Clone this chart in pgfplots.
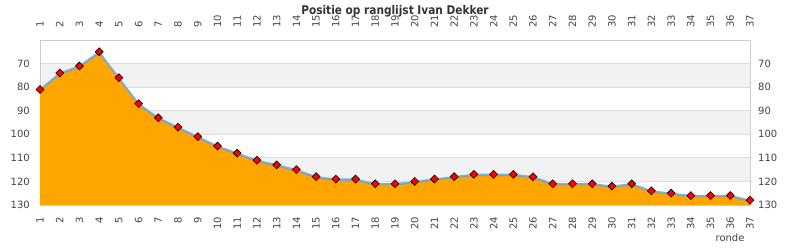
\documentclass[border=0pt]{standalone}
\usepackage{fontspec}
\setmainfont{DejaVu Sans}
\newfontfamily\titlefont{DejaVu Sans}[FakeStretch=0.88]
\usepackage{pgfplots}
\usepackage{pgfplotstable}
\pgfplotsset{compat=1.18}
\definecolor{bandgray}{HTML}{F2F2F2}
\definecolor{gridgray}{HTML}{DDDDDD}
\definecolor{framegray}{HTML}{CCCCCC}
\definecolor{labelgray}{HTML}{444444}
\definecolor{titlegray}{HTML}{333333}
\definecolor{orangefill}{HTML}{FFA500}
\definecolor{lineblue}{HTML}{74B2E6}
\definecolor{shadowgray}{HTML}{8C9AA6}

\pgfplotstableread{
x y
1 81
2 74
3 71
4 65
5 76
6 87
7 93
8 97
9 101
10 105
11 108
12 111
13 113
14 115
15 118
16 119
17 119
18 121
19 121
20 120
21 119
22 118
23 117
24 117
25 117
26 118
27 121
28 121
29 121
30 122
31 121
32 124
33 125
34 126
35 126
36 126
37 128
}\rankdata

\pgfplotsset{
  common/.style={
    scale only axis, width=710pt, height=165pt,
    xmin=1, xmax=37, ymin=60, ymax=130, y dir=reverse,
    xtick={1,...,37}, ytick={70,80,...,130},
    major tick length=0pt, tick style={draw=none},
    /pgf/number format/assume math mode=true,
    ticklabel style={font=\fontsize{10}{12}\selectfont, text=labelgray, inner sep=0pt},
    axis line style={draw=framegray, line width=0.8pt},
    clip=false,
    at={(0,0)}, anchor=south west,
  }
}

\begin{document}
\begin{tikzpicture}
\begin{axis}[common, name=main, set layers,
  xticklabel pos=lower, yticklabel pos=left,
  xticklabel style={rotate=90, anchor=east},
  xticklabel shift=12pt, yticklabel shift=10pt,
  ymajorgrids, grid style={draw=gridgray, line width=0.8pt},
]
\begin{pgfonlayer}{axis background}
\fill[bandgray] (axis cs:1,70) rectangle (axis cs:37,80);
\fill[bandgray] (axis cs:1,90) rectangle (axis cs:37,100);
\fill[bandgray] (axis cs:1,110) rectangle (axis cs:37,120);
\end{pgfonlayer}
\addplot[draw=none, fill=orangefill] table {\rankdata} -- (axis cs:37,130) -- (axis cs:1,130) -- cycle;
\addplot[shadowgray, line width=1pt, yshift=-1.2pt] table {\rankdata};
\addplot[lineblue, line width=1.3pt, mark=square*, mark size=2.8pt,
  mark options={rotate=45, fill=red, draw=black, line width=0.6pt, solid}] table {\rankdata};
\node[anchor=base east, font=\fontsize{10}{12}\selectfont, text=labelgray]
  at ([xshift=-2pt, yshift=-37pt]axis description cs:1,0) {ronde};
\end{axis}
\begin{axis}[common,
  xticklabel pos=upper, yticklabel pos=right,
  xticklabel style={rotate=90, anchor=west},
  xticklabel shift=12pt, yticklabel shift=8pt,
  axis line style={draw=none},
]
\end{axis}
\node[font=\titlefont\bfseries\fontsize{12}{14}\selectfont, text=titlegray]
  at ([yshift=28.5pt]main.north) {Positie op ranglijst Ivan Dekker};
\pgfresetboundingbox
\path[use as bounding box] ([shift={(-40pt,-45pt)}]main.south west) rectangle ([shift={(40pt,40pt)}]main.north east);
\end{tikzpicture}
\end{document}
